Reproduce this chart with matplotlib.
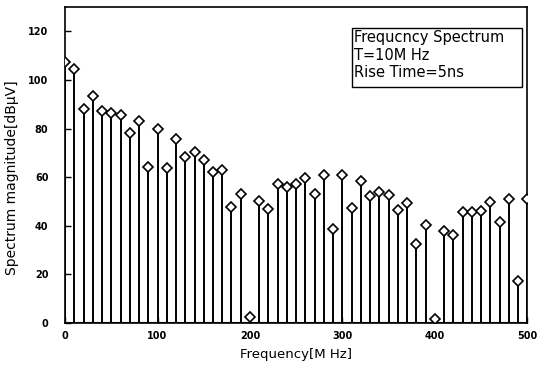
import matplotlib
matplotlib.use("Agg")
from matplotlib import pyplot as plt
from matplotlib.patches import Rectangle
import numpy as np

# harmonics every 10 MHz
freq_mhz = np.arange(0, 510, 10)
magnitude_dbuv = [
    107.4, 104.4, 88.2, 93.3, 87.1, 86.2, 85.5, 78.1, 83.3, 64.0,
    80.0, 63.8, 75.8, 68.2, 70.2, 67.2, 62.0, 63.1, 47.9, 52.9,
    2.5, 50.0, 46.8, 57.2, 55.9, 57.2, 59.6, 53.0, 61.0, 38.6,
    60.7, 47.5, 58.3, 52.3, 54.0, 52.6, 46.7, 49.3, 32.5, 40.2,
    1.8, 37.9, 36.4, 45.5, 45.5, 45.9, 49.7, 41.7, 51.2, 17.2,
    51.0,
]
x_ticks = [0, 100, 200, 300, 400, 500]
y_ticks = [0, 20, 40, 60, 80, 100, 120]
info_lines = ['Frequcncy Spectrum', 'T=10M Hz', 'Rise Time=5ns']

plt.rcParams['font.family'] = ['DejaVu Sans']

fig = plt.figure(figsize=(5.47, 3.70), dpi=100)
ax = fig.add_axes([0.119, 0.127, 0.845, 0.854])

markerline, stemlines, baseline = ax.stem(freq_mhz, magnitude_dbuv, linefmt='k-',
                                          markerfmt='D', basefmt='k-')
stemlines.set_linewidth(1.4)
markerline.set_markersize(4.6)
markerline.set_markerfacecolor('white')
markerline.set_markeredgecolor('black')
markerline.set_markeredgewidth(1.2)
markerline.set_zorder(3)
baseline.set_linewidth(1.5)

ax.set_xlim(0, 500)
ax.set_ylim(0, 130)
ax.set_xticks(x_ticks)
ax.set_yticks(y_ticks)
ax.tick_params(direction='in', length=4, width=1, labelsize=7)
ax.tick_params(axis='x', pad=6)
ax.tick_params(axis='y', pad=12)
for lbl in ax.get_xticklabels() + ax.get_yticklabels():
    lbl.set_fontweight('bold')
for sp in ax.spines.values():
    sp.set_linewidth(1.2)

ax.set_xlabel('Frequency[M Hz]', fontsize=9.5, labelpad=5)
ax.set_ylabel('Spectrum magnitude[dB\u03bcV]', fontsize=10, labelpad=6)
ax.yaxis.set_label_coords(-0.1, 0.46)

# info box in the upper right corner
ax.add_patch(Rectangle((0.621, 0.747), 0.368, 0.187, transform=ax.transAxes,
                       facecolor='white', edgecolor='black', linewidth=1, zorder=4))
ax.text(0.625, 0.927, '\n'.join(info_lines), transform=ax.transAxes,
        fontsize=10.5, va='top', ha='left', linespacing=1.22, zorder=5)

fig.savefig('out.png', dpi=100)
